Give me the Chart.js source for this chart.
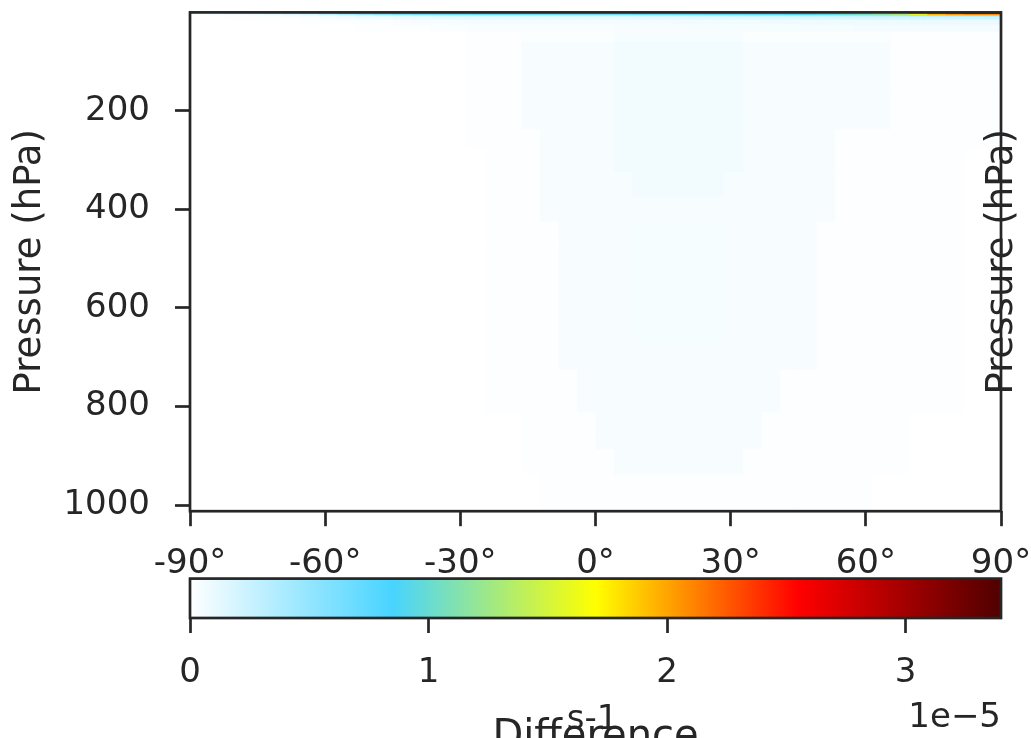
<!DOCTYPE html>
<html><head><meta charset="utf-8">
<script src="https://cdn.jsdelivr.net/npm/chart.js@4/dist/chart.umd.min.js"></script>
<style>
html,body{margin:0;padding:0;background:#ffffff;}
#wrap{position:relative;width:1031px;height:738px;overflow:hidden;background:#ffffff;}
canvas{position:absolute;left:0;top:0;}
</style></head><body>
<div id="wrap">
<canvas id="main" width="1031" height="738"></canvas>
<canvas id="cbar" width="1031" height="738"></canvas>
</div>
<script>
// ---- data (values in units of 1e-5 s-1) ----
const latitudes = [-87.95,-83.86,-79.77,-75.68,-71.59,-67.5,-63.41,-59.32,-55.23,-51.14,-47.05,-42.95,-38.86,-34.77,-30.68,-26.59,-22.5,-18.41,-14.32,-10.23,-6.14,-2.05,2.05,6.14,10.23,14.32,18.41,22.5,26.59,30.68,34.77,38.86,42.95,47.05,51.14,55.23,59.32,63.41,67.5,71.59,75.68,79.77,83.86,87.95];
const pressureLevels = [1,2,3,5,7,10,20,30,50,70,100,125,150,175,200,225,250,300,350,400,450,500,550,600,650,700,750,775,800,825,850,875,900,925,950,975,1000];
const latTicks = [-90,-60,-30,0,30,60,90];
const pressureTicks = [200,400,600,800,1000];
const colorbarTicks = [0,1,2,3];
const colorbarExponent = '1e\u22125';
const yTitle = 'Pressure (hPa)';
const cbarUnits = 's-1';
const cbarTitle = 'Difference';

const differenceField = [
[0.20,0.26,0.34,0.44,0.56,0.70,0.85,1.00,1.12,1.20,1.25,1.28,1.30,1.31,1.32,1.32,1.32,1.31,1.30,1.30,1.29,1.29,1.30,1.30,1.31,1.32,1.34,1.36,1.38,1.41,1.44,1.48,1.52,1.57,1.63,1.70,1.85,2.05,2.30,2.60,2.90,3.15,3.32,3.40],
[0.12,0.16,0.21,0.28,0.37,0.48,0.61,0.75,0.88,0.97,1.03,1.07,1.09,1.10,1.11,1.11,1.11,1.10,1.10,1.09,1.09,1.09,1.09,1.10,1.11,1.12,1.13,1.15,1.17,1.20,1.23,1.27,1.31,1.36,1.42,1.50,1.65,1.85,2.10,2.40,2.65,2.85,2.98,3.05],
[0.06,0.08,0.11,0.15,0.21,0.29,0.39,0.51,0.63,0.73,0.80,0.85,0.88,0.90,0.91,0.91,0.91,0.90,0.90,0.89,0.89,0.89,0.89,0.90,0.91,0.92,0.93,0.95,0.97,0.99,1.02,1.05,1.09,1.13,1.18,1.25,1.38,1.55,1.78,2.05,2.28,2.42,2.50,2.55],
[0.03,0.04,0.05,0.07,0.10,0.14,0.20,0.28,0.37,0.46,0.54,0.60,0.64,0.66,0.68,0.69,0.69,0.69,0.68,0.68,0.67,0.67,0.67,0.68,0.69,0.70,0.71,0.72,0.74,0.76,0.78,0.80,0.83,0.86,0.90,0.95,1.00,1.08,1.25,1.60,1.90,2.00,2.05,2.05],
[0.01,0.015,0.02,0.03,0.04,0.06,0.08,0.11,0.15,0.19,0.23,0.26,0.28,0.30,0.31,0.32,0.32,0.32,0.32,0.31,0.31,0.31,0.31,0.32,0.32,0.33,0.34,0.35,0.36,0.37,0.38,0.39,0.40,0.41,0.42,0.43,0.45,0.47,0.49,0.51,0.53,0.55,0.56,0.57],
[0,0.005,0.01,0.01,0.015,0.02,0.03,0.04,0.05,0.07,0.08,0.09,0.10,0.11,0.12,0.12,0.12,0.12,0.12,0.12,0.12,0.12,0.12,0.12,0.13,0.13,0.13,0.14,0.14,0.15,0.15,0.16,0.16,0.17,0.17,0.18,0.18,0.19,0.19,0.20,0.20,0.21,0.21,0.22],
[0,0,0,0,0,0.005,0.01,0.01,0.015,0.02,0.025,0.03,0.035,0.04,0.045,0.05,0.05,0.05,0.05,0.05,0.05,0.05,0.05,0.055,0.055,0.055,0.06,0.06,0.06,0.065,0.065,0.07,0.07,0.075,0.075,0.08,0.08,0.085,0.085,0.09,0.09,0.09,0.095,0.095],
[0,0,0,0,0,0,0,0.005,0.005,0.01,0.01,0.015,0.015,0.02,0.025,0.03,0.03,0.03,0.03,0.03,0.03,0.03,0.03,0.035,0.035,0.035,0.035,0.04,0.04,0.04,0.04,0.04,0.045,0.045,0.045,0.045,0.05,0.05,0.05,0.05,0.05,0.05,0.05,0.05],
[0,0,0,0,0,0,0,0,0,0,0,0,0,0,0,0.015,0.015,0.015,0.025,0.025,0.025,0.025,0.025,0.04,0.04,0.04,0.04,0.04,0.04,0.04,0.025,0.025,0.025,0.025,0.025,0.025,0.025,0.025,0.015,0.015,0.015,0.015,0.015,0.015],
[0,0,0,0,0,0,0,0,0,0,0,0,0,0,0,0.015,0.015,0.015,0.035,0.035,0.035,0.035,0.035,0.06,0.06,0.06,0.06,0.06,0.06,0.06,0.035,0.035,0.035,0.035,0.035,0.035,0.035,0.035,0.015,0.015,0.015,0.015,0.015,0.015],
[0,0,0,0,0,0,0,0,0,0,0,0,0,0,0,0.015,0.015,0.015,0.035,0.035,0.035,0.035,0.035,0.06,0.06,0.06,0.06,0.06,0.06,0.06,0.035,0.035,0.035,0.035,0.035,0.035,0.035,0.035,0.015,0.015,0.015,0.015,0.015,0.015],
[0,0,0,0,0,0,0,0,0,0,0,0,0,0,0,0.015,0.015,0.015,0.035,0.035,0.035,0.035,0.035,0.06,0.06,0.06,0.06,0.06,0.06,0.06,0.035,0.035,0.035,0.035,0.035,0.035,0.035,0.035,0.015,0.015,0.015,0.015,0.015,0.015],
[0,0,0,0,0,0,0,0,0,0,0,0,0,0,0,0.015,0.015,0.015,0.035,0.035,0.035,0.035,0.035,0.06,0.06,0.06,0.06,0.06,0.06,0.06,0.035,0.035,0.035,0.035,0.035,0.035,0.035,0.035,0.015,0.015,0.015,0.015,0.015,0.015],
[0,0,0,0,0,0,0,0,0,0,0,0,0,0,0,0.015,0.015,0.015,0.035,0.035,0.035,0.035,0.035,0.06,0.06,0.06,0.06,0.06,0.06,0.06,0.035,0.035,0.035,0.035,0.035,0.035,0.035,0.035,0.015,0.015,0.015,0.015,0.015,0.015],
[0,0,0,0,0,0,0,0,0,0,0,0,0,0,0,0.015,0.015,0.015,0.035,0.035,0.035,0.035,0.035,0.06,0.06,0.06,0.06,0.06,0.06,0.06,0.035,0.035,0.035,0.035,0.035,0.035,0.035,0.035,0.015,0.015,0.015,0.015,0.015,0.015],
[0,0,0,0,0,0,0,0,0,0,0,0,0,0,0,0.015,0.015,0.015,0.035,0.035,0.035,0.035,0.035,0.06,0.06,0.06,0.06,0.06,0.06,0.06,0.035,0.035,0.035,0.035,0.035,0.035,0.035,0.035,0.015,0.015,0.015,0.015,0.015,0.015],
[0,0,0,0,0,0,0,0,0,0,0,0,0,0,0,0.015,0.015,0.015,0.015,0.035,0.035,0.035,0.035,0.06,0.06,0.06,0.06,0.06,0.06,0.06,0.035,0.035,0.035,0.035,0.035,0.015,0.015,0.015,0.015,0.015,0.015,0.015,0.015,0.015],
[0,0,0,0,0,0,0,0,0,0,0,0,0,0,0,0,0.015,0.015,0.015,0.035,0.035,0.035,0.035,0.06,0.06,0.06,0.06,0.06,0.06,0.06,0.035,0.035,0.035,0.035,0.035,0.015,0.015,0.015,0.015,0.015,0.015,0.015,0,0],
[0,0,0,0,0,0,0,0,0,0,0,0,0,0,0,0,0.015,0.015,0.015,0.035,0.035,0.035,0.035,0.035,0.06,0.06,0.06,0.06,0.06,0.035,0.035,0.035,0.035,0.035,0.035,0.015,0.015,0.015,0.015,0.015,0.015,0.015,0,0],
[0,0,0,0,0,0,0,0,0,0,0,0,0,0,0,0,0.015,0.015,0.015,0.035,0.035,0.035,0.035,0.035,0.035,0.035,0.035,0.035,0.035,0.035,0.035,0.035,0.035,0.035,0.035,0.015,0.015,0.015,0.015,0.015,0.015,0.015,0,0],
[0,0,0,0,0,0,0,0,0,0,0,0,0,0,0,0,0.015,0.015,0.015,0.015,0.035,0.035,0.035,0.035,0.045,0.045,0.045,0.045,0.045,0.035,0.035,0.035,0.035,0.035,0.015,0.015,0.015,0.015,0.015,0.015,0.015,0.015,0,0],
[0,0,0,0,0,0,0,0,0,0,0,0,0,0,0,0,0.015,0.015,0.015,0.015,0.035,0.035,0.035,0.035,0.045,0.045,0.045,0.045,0.045,0.035,0.035,0.035,0.035,0.035,0.015,0.015,0.015,0.015,0.015,0.015,0.015,0.015,0,0],
[0,0,0,0,0,0,0,0,0,0,0,0,0,0,0,0,0.015,0.015,0.015,0.015,0.035,0.035,0.035,0.035,0.045,0.045,0.045,0.045,0.045,0.035,0.035,0.035,0.035,0.035,0.015,0.015,0.015,0.015,0.015,0.015,0.015,0.015,0,0],
[0,0,0,0,0,0,0,0,0,0,0,0,0,0,0,0,0.015,0.015,0.015,0.015,0.035,0.035,0.035,0.035,0.045,0.045,0.045,0.045,0.045,0.035,0.035,0.035,0.035,0.035,0.015,0.015,0.015,0.015,0.015,0.015,0.015,0.015,0,0],
[0,0,0,0,0,0,0,0,0,0,0,0,0,0,0,0,0.015,0.015,0.015,0.015,0.035,0.035,0.035,0.035,0.045,0.045,0.045,0.045,0.045,0.035,0.035,0.035,0.035,0.035,0.015,0.015,0.015,0.015,0.015,0.015,0.015,0.015,0,0],
[0,0,0,0,0,0,0,0,0,0,0,0,0,0,0,0,0.015,0.015,0.015,0.015,0.035,0.035,0.035,0.035,0.035,0.035,0.035,0.035,0.035,0.035,0.035,0.035,0.035,0.035,0.015,0.015,0.015,0.015,0.015,0.015,0.015,0.015,0,0],
[0,0,0,0,0,0,0,0,0,0,0,0,0,0,0,0,0.015,0.015,0.015,0.015,0.015,0.035,0.035,0.035,0.035,0.035,0.035,0.035,0.035,0.035,0.035,0.035,0.015,0.015,0.015,0.015,0.015,0.015,0.015,0.015,0.015,0.015,0,0],
[0,0,0,0,0,0,0,0,0,0,0,0,0,0,0,0,0.015,0.015,0.015,0.015,0.015,0.035,0.035,0.035,0.035,0.035,0.035,0.035,0.035,0.035,0.035,0.035,0.015,0.015,0.015,0.015,0.015,0.015,0.015,0.015,0.015,0.015,0,0],
[0,0,0,0,0,0,0,0,0,0,0,0,0,0,0,0,0.015,0.015,0.015,0.015,0.015,0.035,0.035,0.035,0.035,0.035,0.035,0.035,0.035,0.035,0.035,0.035,0.015,0.015,0.015,0.015,0.015,0.015,0.015,0.015,0.015,0.015,0,0],
[0,0,0,0,0,0,0,0,0,0,0,0,0,0,0,0,0,0,0.015,0.015,0.015,0.015,0.035,0.035,0.035,0.035,0.035,0.035,0.035,0.035,0.035,0.015,0.015,0.015,0.015,0.015,0.015,0.015,0.015,0,0,0,0,0],
[0,0,0,0,0,0,0,0,0,0,0,0,0,0,0,0,0,0,0.015,0.015,0.015,0.015,0.035,0.035,0.035,0.035,0.035,0.035,0.035,0.035,0.035,0.015,0.015,0.015,0.015,0.015,0.015,0.015,0.015,0,0,0,0,0],
[0,0,0,0,0,0,0,0,0,0,0,0,0,0,0,0,0,0,0.015,0.015,0.015,0.015,0.035,0.035,0.035,0.035,0.035,0.035,0.035,0.035,0.035,0.015,0.015,0.015,0.015,0.015,0.015,0.015,0.015,0,0,0,0,0],
[0,0,0,0,0,0,0,0,0,0,0,0,0,0,0,0,0,0,0.015,0.015,0.015,0.015,0.015,0.035,0.035,0.035,0.035,0.035,0.035,0.035,0.015,0.015,0.015,0.015,0.015,0.015,0.015,0.015,0.015,0,0,0,0,0],
[0,0,0,0,0,0,0,0,0,0,0,0,0,0,0,0,0,0,0.015,0.015,0.015,0.015,0.015,0.035,0.035,0.035,0.035,0.035,0.035,0.035,0.015,0.015,0.015,0.015,0.015,0.015,0.015,0.015,0.015,0,0,0,0,0],
[0,0,0,0,0,0,0,0,0,0,0,0,0,0,0,0,0,0,0,0.015,0.015,0.015,0.015,0.015,0.015,0.015,0.015,0.015,0.015,0.015,0.015,0.015,0.015,0.015,0.015,0.015,0.015,0,0,0,0,0,0,0],
[0,0,0,0,0,0,0,0,0,0,0,0,0,0,0,0,0,0,0,0.015,0.015,0.015,0.015,0.015,0.015,0.015,0.015,0.015,0.015,0.015,0.015,0.015,0.015,0.015,0.015,0.015,0.015,0,0,0,0,0,0,0],
[0,0,0,0,0,0,0,0,0,0,0,0,0,0,0,0,0,0,0,0.015,0.015,0.015,0.015,0.015,0.015,0.015,0.015,0.015,0.015,0.015,0.015,0.015,0.015,0.015,0.015,0.015,0.015,0,0,0,0,0,0,0]
];

// ---- styling ----
const FONT = 'DejaVu Sans';
const INK = '#262626';
const SPINE = 2.7;
const cmapStops = [[0,[255,255,255]],[0.25,[72,212,255]],[0.5,[255,255,0]],[0.75,[255,0,0]],[1,[80,0,0]]];
const vmax = Math.max(...differenceField.map(r => Math.max(...r)));

function cmap(t){
  t = Math.max(0, Math.min(1, t));
  for (let k = 1; k < cmapStops.length; k++){
    if (t <= cmapStops[k][0]){
      const [t0,c0] = cmapStops[k-1], [t1,c1] = cmapStops[k];
      const f = (t - t0)/(t1 - t0);
      return 'rgb(' + c0.map((c,q) => Math.round(c + (c1[q]-c)*f)).join(',') + ')';
    }
  }
  return 'rgb(80,0,0)';
}
function edges(c){
  const e = [c[0] - (c[1]-c[0])/2];
  for (let k = 0; k < c.length-1; k++) e.push((c[k]+c[k+1])/2);
  e.push(c[c.length-1] + (c[c.length-1]-c[c.length-2])/2);
  return e;
}
const latEdges = edges(latitudes);
const pEdges = edges(pressureLevels);

const cells = [];
pressureLevels.forEach((p, j) => latitudes.forEach((lat, i) => cells.push({x: lat, y: p, v: differenceField[j][i], i, j})));

function fixFit(w, h){
  return function(scale){
    if (w !== null) scale.width = w;
    if (h !== null) scale.height = h;
    scale.paddingLeft = 0; scale.paddingRight = 0; scale.paddingTop = 0; scale.paddingBottom = 0;
  };
}

const heatmapPlugin = {
  id: 'heatmap',
  beforeDatasetsDraw(chart){
    const {ctx, chartArea: a, scales: {x, y}} = chart;
    ctx.save();
    ctx.beginPath(); ctx.rect(a.left, a.top, a.right - a.left, a.bottom - a.top); ctx.clip();
    chart.data.datasets[0].data.forEach(d => {
      const x0 = x.getPixelForValue(latEdges[d.i]), x1 = x.getPixelForValue(latEdges[d.i+1]);
      const y0 = y.getPixelForValue(pEdges[d.j]), y1 = y.getPixelForValue(pEdges[d.j+1]);
      ctx.fillStyle = cmap(d.v / vmax);
      ctx.fillRect(x0, Math.min(y0,y1), (x1 - x0) + 0.6, Math.abs(y1 - y0) + 0.6);
    });
    ctx.restore();
  },
  afterDraw(chart){
    const {ctx, chartArea: a} = chart;
    ctx.save();
    ctx.strokeStyle = INK; ctx.lineWidth = SPINE;
    ctx.strokeRect(a.left, a.top, a.right - a.left, a.bottom - a.top);
    // right-hand duplicate axis label
    ctx.fillStyle = INK;
    ctx.font = '37px "' + FONT + '"';
    ctx.textAlign = 'center'; ctx.textBaseline = 'middle';
    ctx.translate(a.right + 1, (a.top + a.bottom)/2);
    ctx.rotate(-Math.PI/2);
    ctx.fillText(yTitle, 0, 0);
    ctx.restore();
  }
};

new Chart(document.getElementById('main'), {
  type: 'scatter',
  data: { datasets: [{ data: cells, pointRadius: 0, pointHoverRadius: 0, showLine: false }] },
  options: {
    responsive: false, animation: false, devicePixelRatio: 1, events: [],
    layout: { padding: { left: 0, right: 30, top: 12.4, bottom: 126.8 } },
    plugins: { legend: { display: false }, tooltip: { enabled: false } },
    scales: {
      x: {
        type: 'linear', min: -90, max: 90,
        afterBuildTicks: s => { s.ticks = latTicks.map(v => ({value: v})); },
        afterFit: fixFit(null, 100),
        border: { display: false },
        grid: { display: true, drawOnChartArea: false, drawTicks: true, tickLength: 15, tickWidth: SPINE, tickColor: INK },
        ticks: { autoSkip: false, maxRotation: 0, padding: 18, color: INK, font: { family: FONT, size: 34 }, callback: v => v + '\u00b0' }
      },
      y: {
        type: 'linear', reverse: true, min: 0.5, max: 1012.5,
        afterBuildTicks: s => { s.ticks = pressureTicks.map(v => ({value: v})); },
        afterFit: fixFit(190, null),
        border: { display: false },
        grid: { display: true, drawOnChartArea: false, drawTicks: true, tickLength: 15, tickWidth: SPINE, tickColor: INK },
        ticks: { autoSkip: false, padding: 25, color: INK, font: { family: FONT, size: 34 }, callback: v => String(v) },
        title: { display: true, text: yTitle, color: INK, font: { family: FONT, size: 37 }, padding: { top: 8, bottom: 0 } }
      }
    }
  },
  plugins: [heatmapPlugin]
});

const colorbarPlugin = {
  id: 'colorbar',
  beforeDatasetsDraw(chart){
    const {ctx, chartArea: a, scales: {x}} = chart;
    const x0 = x.getPixelForValue(0), x1 = x.getPixelForValue(vmax);
    const g = ctx.createLinearGradient(x0, 0, x1, 0);
    cmapStops.forEach(s => g.addColorStop(s[0], 'rgb(' + s[1].join(',') + ')'));
    ctx.save();
    ctx.fillStyle = g;
    ctx.fillRect(x0, a.top, x1 - x0, a.bottom - a.top);
    ctx.restore();
  },
  afterDraw(chart){
    const {ctx, chartArea: a, scales: {x}} = chart;
    ctx.save();
    ctx.strokeStyle = INK; ctx.lineWidth = SPINE;
    ctx.strokeRect(a.left, a.top, a.right - a.left, a.bottom - a.top);
    ctx.fillStyle = INK;
    ctx.textBaseline = 'alphabetic';
    ctx.font = '34px "' + FONT + '"';
    ctx.textAlign = 'right';
    ctx.fillText(colorbarExponent, x.right, 727);
    ctx.textAlign = 'center';
    const mid = (x.left + x.right)/2;
    ctx.font = '40px "' + FONT + '"';
    ctx.fillText(cbarTitle, mid, 747.5);
    ctx.font = '34px "' + FONT + '"';
    ctx.fillText(cbarUnits, mid - 3, 729);
    ctx.restore();
  }
};

new Chart(document.getElementById('cbar'), {
  type: 'scatter',
  data: { datasets: [{ data: [], pointRadius: 0 }] },
  options: {
    responsive: false, animation: false, devicePixelRatio: 1, events: [],
    layout: { padding: { left: 190, right: 30, top: 578.6, bottom: 20 } },
    plugins: { legend: { display: false }, tooltip: { enabled: false } },
    scales: {
      x: {
        type: 'linear', min: 0, max: vmax,
        afterBuildTicks: s => { s.ticks = colorbarTicks.map(v => ({value: v})); },
        afterFit: fixFit(null, 100),
        border: { display: false },
        grid: { display: true, drawOnChartArea: false, drawTicks: true, tickLength: 15, tickWidth: SPINE, tickColor: INK },
        ticks: { autoSkip: false, maxRotation: 0, padding: 20, color: INK, font: { family: FONT, size: 34 }, callback: v => String(v) }
      },
      y: { display: false, min: 0, max: 1 }
    }
  },
  plugins: [colorbarPlugin]
});
</script>
</body></html>
